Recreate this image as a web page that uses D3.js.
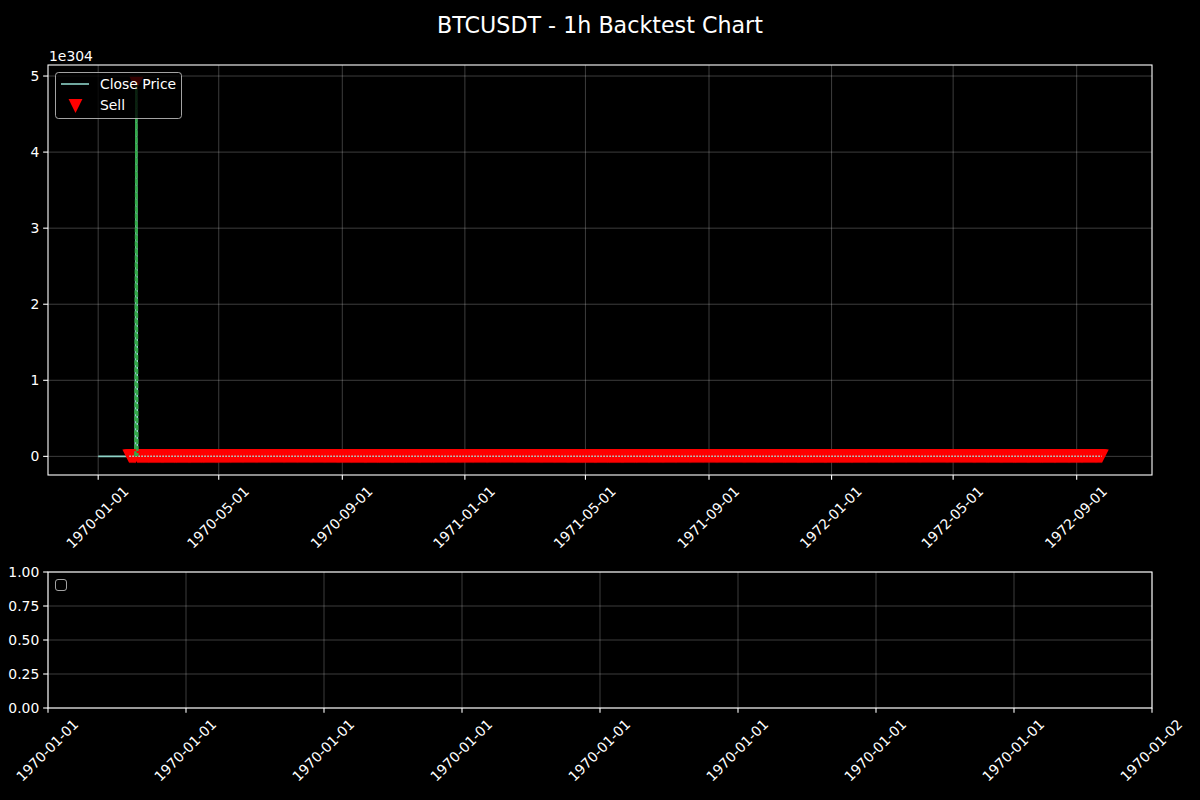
<!DOCTYPE html>
<html><head><meta charset="utf-8">
<script src="https://cdn.jsdelivr.net/npm/d3@7"></script>
<style>
html,body{margin:0;padding:0;background:#000;}
text{font-family:"DejaVu Sans",sans-serif;fill:#fff;}
</style></head>
<body>
<svg id="c" width="1200" height="800"></svg>
<script>
// ---- data (x = bar index, plotted as days since 1970-01-01; y in units of 1e304) ----
const closeDays   = [0, 31, 37, 38, 39, 999];
const closeValues = [0, 0, 0, 4.9, 0, 0];
const sellStartDay = 31;      // sell markers at every bar from here ...
const sellEndDay   = 999;     // ... to here (continuous red band)
const spikeDays   = [37, 38, 39];
const spikeValues = [0, 4.9, 0];
const topYTicks = [0, 1, 2, 3, 4, 5];
const bottomYTicks = [0, 0.25, 0.5, 0.75, 1.0];
const titleText = "BTCUSDT - 1h Backtest Chart";
const offsetText = "1e304";
const legendLabels = ["Close Price", "Sell"];

const DAY = 86400000;
const svg = d3.select("#c");
svg.append("rect").attr("width",1200).attr("height",800).attr("fill","#000");

const FS = 13.9, TICK = 4.86, PAD = 4.86;
const L = 48, R = 1152;
const top1 = 65, bot1 = 475, top2 = 572, bot2 = 708;
const gridCol = "rgba(255,255,255,0.3)";

const closePts = closeDays.map((d,i)=>({d, v: closeValues[i]}));
const span = 999 - 0, m = span*0.05;
const x1 = d3.scaleUtc().domain([new Date(-m*DAY), new Date((999+m)*DAY)]).range([L,R]);
const vmin = 0, vmax = d3.max(closeValues), vm = (vmax - vmin)*0.05;
const y1 = d3.scaleLinear().domain([vmin - vm, vmax + vm]).range([bot1, top1]);
const X = d => x1(new Date(d*DAY));

const fmt = d3.utcFormat("%Y-%m-%d");

function xLabels(g, scale, ticks, yBottom){
  ticks.forEach(t=>{
    const tx = scale(t);
    const txt = g.append("text").attr("font-size",FS).attr("text-anchor","end").text(fmt(t));
    const w = txt.node().getComputedTextLength();
    const asc = 10.6, desc = 3.0;
    const ax = tx + 0.3535*(w + asc - desc);
    const ay = yBottom + TICK + PAD + 0.707*asc;
    txt.attr("transform",`translate(${ax},${ay}) rotate(-45)`);
    g.append("line").attr("x1",tx).attr("x2",tx).attr("y1",yBottom).attr("y2",yBottom+TICK)
      .attr("stroke","#fff").attr("stroke-width",1.1);
  });
}
function yLabels(g, scale, ticks, fmtf){
  ticks.forEach(t=>{
    const ty = scale(t);
    g.append("line").attr("x1",L-TICK).attr("x2",L).attr("y1",ty).attr("y2",ty)
      .attr("stroke","#fff").attr("stroke-width",1.1);
    g.append("text").attr("font-size",FS).attr("text-anchor","end")
      .attr("x",L-TICK-PAD+1).attr("y",ty).attr("dy","0.36em").text(fmtf(t));
  });
}

// ---- title ----
svg.append("text").attr("x",600).attr("y",33).attr("text-anchor","middle")
  .attr("font-size",22.2).text(titleText);

// ---- top axes ----
const g1 = svg.append("g");
g1.append("clipPath").attr("id","clip1").append("rect")
  .attr("x",L).attr("y",top1).attr("width",R-L).attr("height",bot1-top1);
const xt1 = d3.utcMonth.every(4).range(new Date(0), new Date((999+m)*DAY));
xt1.forEach(t=>{
  g1.append("line").attr("x1",x1(t)).attr("x2",x1(t)).attr("y1",top1).attr("y2",bot1)
    .attr("stroke",gridCol).attr("stroke-width",0.8);
});
topYTicks.forEach(t=>{
  g1.append("line").attr("x1",L).attr("x2",R).attr("y1",y1(t)).attr("y2",y1(t))
    .attr("stroke",gridCol).attr("stroke-width",0.8);
});
const plot = g1.append("g").attr("clip-path","url(#clip1)");
const line = d3.line().x(p=>X(p.d)).y(p=>y1(p.v));
plot.append("path").datum(closePts).attr("d",line).attr("fill","none")
  .attr("stroke","#8dd3c7").attr("stroke-width",1.8);

// sell markers at each bar's close
const valueAt = d => {
  for (let i=1;i<closePts.length;i++){
    if (d <= closePts[i].d){
      const a = closePts[i-1], b = closePts[i];
      return b.d===a.d ? b.v : a.v + (b.v-a.v)*(d-a.d)/(b.d-a.d);
    }
  }
  return closePts[closePts.length-1].v;
};
const sells = d3.range(sellStartDay, sellEndDay+1).map(d=>({d, v: valueAt(d)}));
const hs = 6.95;
const triPath = `M${-hs},${-hs}L${hs},${-hs}L0,${hs}Z`;
plot.selectAll("path.sell").data(sells).join("path").attr("class","sell")
  .attr("d",triPath).attr("transform",p=>`translate(${X(p.d)},${y1(p.v)})`)
  .attr("fill","#ff0000");

// close line overlay along the red band
const overlay = closePts.filter(p=>p.v===0 && p.d>=sellStartDay);
plot.append("path").datum(overlay).attr("d",line).attr("fill","none")
  .attr("stroke","#a8e6dc").attr("stroke-width",1.5).attr("stroke-dasharray","1.5,1.5");
// green dashed spike line
const spikePts = spikeDays.map((d,i)=>({d, v: spikeValues[i]}));
plot.append("path").datum(spikePts).attr("d",line).attr("fill","none")
  .attr("stroke","#33a84a").attr("stroke-width",2.4).attr("stroke-dasharray","5,2");

// spines
g1.append("rect").attr("x",L).attr("y",top1).attr("width",R-L).attr("height",bot1-top1)
  .attr("fill","none").attr("stroke","#fff").attr("stroke-width",1.1);
xLabels(g1, x1, xt1, bot1);
yLabels(g1, y1, topYTicks, d=>String(d));
g1.append("text").attr("x",L+1).attr("y",61).attr("font-size",FS).text(offsetText);

// legend
const lg = g1.append("g");
lg.append("rect").attr("x",55.5).attr("y",72.5).attr("width",126).attr("height",46).attr("rx",3)
  .attr("fill","rgba(0,0,0,0.8)").attr("stroke","rgba(204,204,204,0.8)").attr("stroke-width",1);
lg.append("line").attr("x1",61).attr("x2",89).attr("y1",84).attr("y2",84)
  .attr("stroke","#8dd3c7").attr("stroke-width",1.6);
lg.append("text").attr("x",100).attr("y",84).attr("dy","0.36em").attr("font-size",FS).text(legendLabels[0]);
lg.append("path").attr("d",triPath).attr("transform","translate(75.5,106)").attr("fill","#ff0000");
lg.append("text").attr("x",100).attr("y",105).attr("dy","0.36em").attr("font-size",FS).text(legendLabels[1]);

// ---- bottom axes ----
const g2 = svg.append("g");
const x2 = d3.scaleUtc().domain([new Date(0), new Date(DAY)]).range([L,R]);
const y2 = d3.scaleLinear().domain([0,1]).range([bot2, top2]);
const xt2 = d3.utcHour.every(3).range(new Date(0), new Date(DAY+1));
xt2.forEach(t=>{
  g2.append("line").attr("x1",x2(t)).attr("x2",x2(t)).attr("y1",top2).attr("y2",bot2)
    .attr("stroke",gridCol).attr("stroke-width",0.8);
});
bottomYTicks.forEach(t=>{
  g2.append("line").attr("x1",L).attr("x2",R).attr("y1",y2(t)).attr("y2",y2(t))
    .attr("stroke",gridCol).attr("stroke-width",0.8);
});
g2.append("rect").attr("x",L).attr("y",top2).attr("width",R-L).attr("height",bot2-top2)
  .attr("fill","none").attr("stroke","#fff").attr("stroke-width",1.1);
xLabels(g2, x2, xt2, bot2);
yLabels(g2, y2, bottomYTicks, d3.format(".2f"));
g2.append("rect").attr("x",55.5).attr("y",579.5).attr("width",11).attr("height",11).attr("rx",2.5)
  .attr("fill","rgba(0,0,0,0.8)").attr("stroke","rgba(204,204,204,0.8)").attr("stroke-width",1);
</script>
</body></html>
